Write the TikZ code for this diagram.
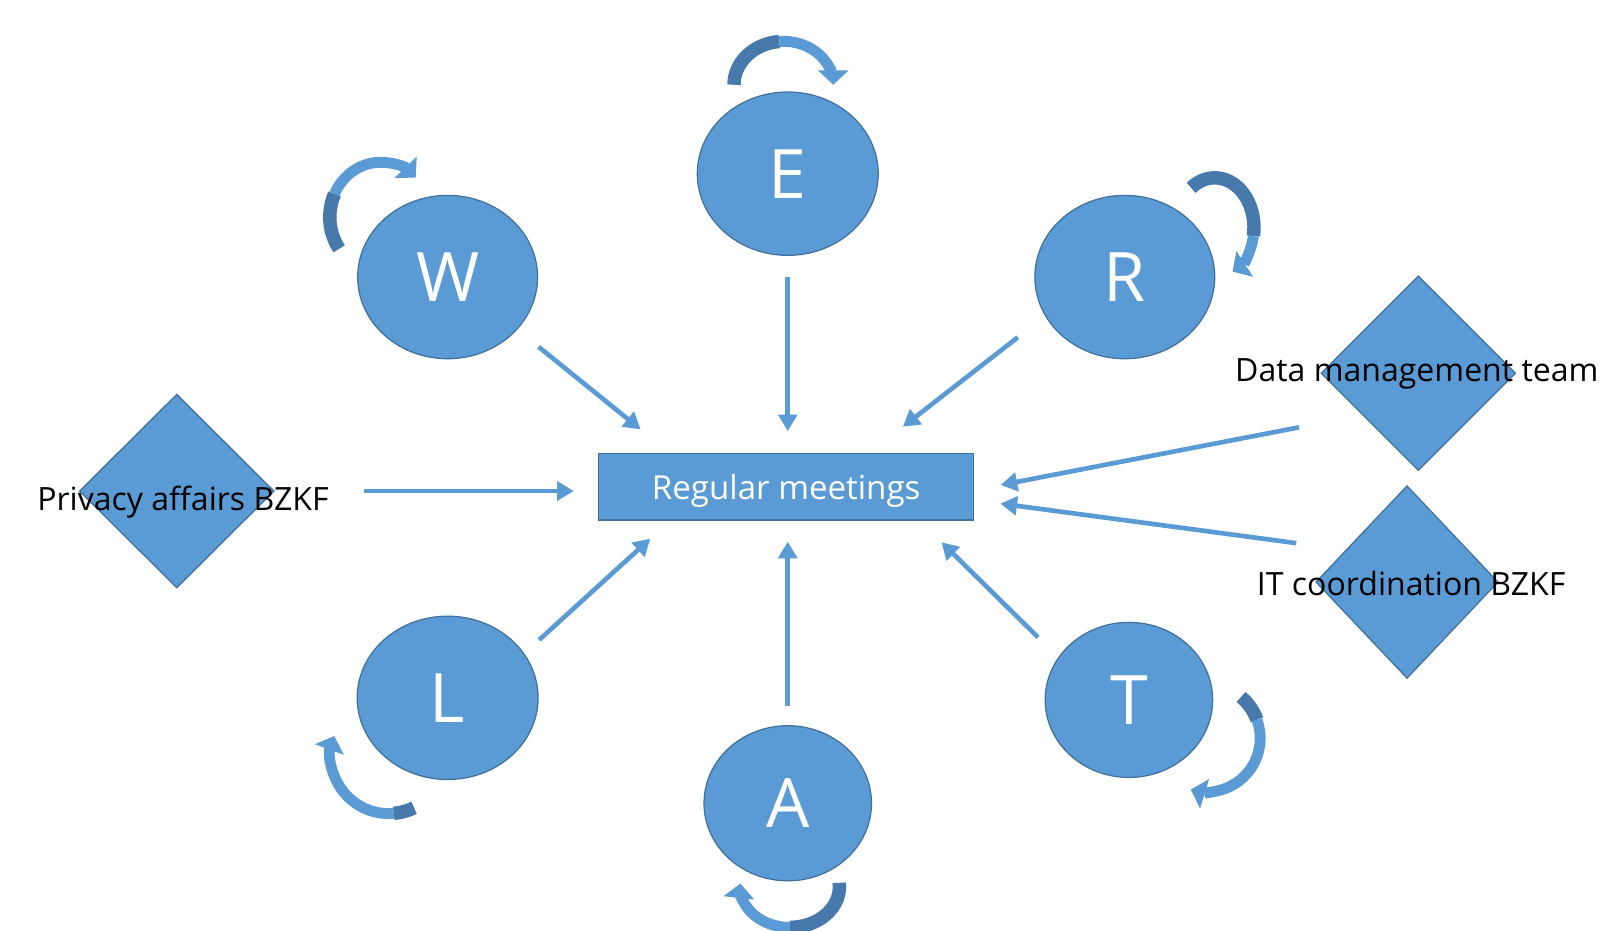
\documentclass[tikz,border=0pt]{standalone}
\usepackage{fontspec}
\setmainfont{Open Sans}
\usetikzlibrary{positioning,shapes.geometric,arrows.meta}
\definecolor{boxblue}{HTML}{5B9BD5}
\definecolor{edgeblue}{HTML}{41719C}
\definecolor{bandblue}{HTML}{4879AD}
\tikzstyle{meeting graph}=[
    x=1pt, y=-1pt,
    every node/.style={
        align=center, inner sep=0pt, outer sep=0pt,
    },
    member/.style={
        ellipse, fill=boxblue, draw=edgeblue, line width=1.2pt,
        text=white, font=\fontsize{66}{66}\selectfont,
    },
    partner/.style={diamond, fill=boxblue, draw=edgeblue, line width=1.2pt},
    partner text/.style={font=\fontsize{31}{31}\selectfont, text depth=0pt},
    link/.style={draw=boxblue, line width=4.5pt, -{Triangle[length=16pt,width=18pt]}},
    band back/.style={draw=bandblue, line width=13pt},
    band front/.style={draw=boxblue, line width=10.5pt, -{Triangle[length=14pt,width=29pt]}},
]
% node, offset of centre, x radius, y radius, start, colour change, end
\newcommand{\loopband}[7]{%
    \draw[band back] (#1) ++(#2) ++(#5:#3 and #4) arc[start angle=#5, end angle=#6, x radius=#3, y radius=#4];
    \draw[band front] (#1) ++(#2) ++(#6:#3 and #4) arc[start angle=#6, end angle=#7, x radius=#3, y radius=#4];
}

\begin{document}
\begin{tikzpicture}[meeting graph]
    \useasboundingbox (0,0) rectangle (1568,900);

    % the members
    \node[member, minimum width=175, minimum height=158] (E) at (762,168) {E};
    \node[member, minimum width=174, minimum height=158] (W) at (433,268) {W};
    \node[member, minimum width=174, minimum height=158] (R) at (1088,268) {R};
    \node[member, minimum width=175, minimum height=158] (L) at (433,675) {L};
    \node[member, minimum width=162, minimum height=150] (A) at (762,777) {A};
    \node[member, minimum width=162, minimum height=150] (T) at (1092,677) {T};

    \node[fill=boxblue, draw=edgeblue, line width=1.2pt, minimum width=363, minimum height=64,
        text=white, text depth=0pt, font=\fontsize{32}{32}\selectfont] (meet) at (760.5,471) {Regular meetings};

    % partners outside
    \node[partner, minimum width=188, minimum height=187] (priv) at (171,475) {};
    \node[partner, minimum width=188, minimum height=188] (dm) at (1372,361) {};
    \node[partner, minimum width=176, minimum height=186] (it) at (1361,563) {};
    \node[partner text] (privtext) at ([shift={(6,6.6)}]priv.center) {Privacy affairs BZKF};
    \node[partner text] (dmtext) at ([shift={(-1.5,-3)}]dm.center) {Data management team};
    \node[partner text] (ittext) at ([shift={(4,1)}]it.center) {IT coordination BZKF};

    \draw[link, shorten <=87pt, shorten >=24pt] (priv.east) -- (priv.east -| meet.west);
    \draw[link, shorten <=27pt, shorten >=37.6pt] (W.-37.5) -- (meet.164.6);
    \draw[link, shorten <=21pt, shorten >=22pt] (E.south) -- (E.south |- meet.north);
    \draw[link, shorten <=34pt, shorten >=42.7pt] (R.206.7) -- (meet.22.2);
    \draw[link, shorten <=63pt, shorten >=26.5pt] (dm.217.7) -- (meet.-1.3);
    \draw[link, shorten <=49pt, shorten >=26pt] (it.152.7) -- (meet.-4.3);
    \draw[link, shorten <=20pt, shorten >=27pt] (L.30.9) -- (meet.196.3);
    \draw[link, shorten <=19pt, shorten >=21pt] (A.north) -- (A.north |- meet.south);
    \draw[link, shorten <=28pt, shorten >=30.7pt] (T.149.9) -- (meet.-14.9);

    % loops
    \loopband{W}{-65,-58}{49}{53}{144.6}{205}{314}
    \loopband{E}{-4,-86}{48}{42}{180}{265}{360}
    \loopband{R}{87,-48}{38}{48}{-127}{10}{63}
    \loopband{L}{-57,56}{56}{56}{64}{85}{200}
    \loopband{A}{2,81}{48}{39}{-6}{90}{185}
    \loopband{T}{75,37}{52}{52}{-50}{-20}{107}
\end{tikzpicture}
\end{document}
